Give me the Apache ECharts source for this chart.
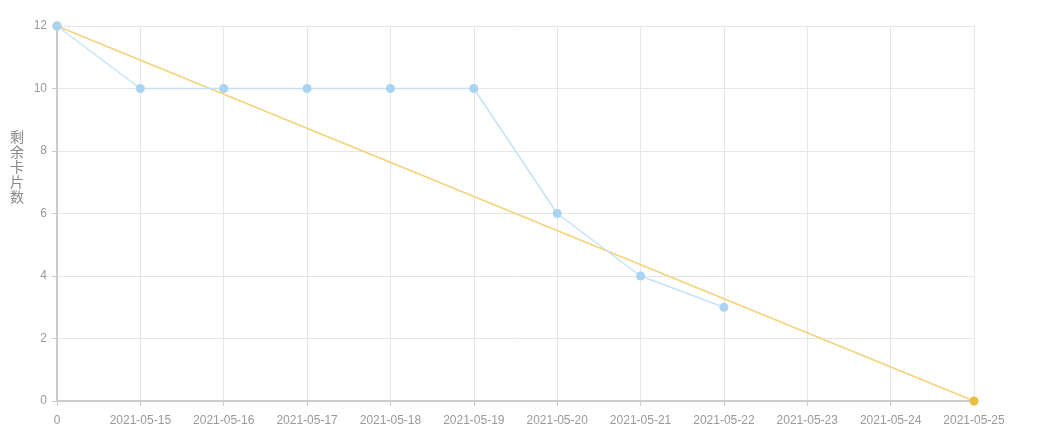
<!DOCTYPE html>
<html><head><meta charset="utf-8">
<script src="https://cdn.jsdelivr.net/npm/echarts@6/dist/echarts.min.js"></script>
<style>html,body{margin:0;padding:0;background:#fff}#c{width:1063px;height:443px}</style>
</head><body><div id="c"></div>
<script>
const categories = ['0','2021-05-15','2021-05-16','2021-05-17','2021-05-18','2021-05-19','2021-05-20','2021-05-21','2021-05-22','2021-05-23','2021-05-24','2021-05-25'];
const actualValues = [12,10,10,10,10,10,6,4,3,null,null,null];
const idealValues = [12,null,null,null,null,null,null,null,null,null,null,0];
const yTicks = {min:0,max:12,interval:2};
const yName = '剩余卡片数';

const chart = echarts.init(document.getElementById('c'));
chart.setOption({
  animation:false,
  grid:{left:57,right:89,top:26,bottom:42},
  graphic:[{type:'text',left:10,top:129,style:{text:yName.split('').join('\n'),fill:'#888',fontSize:14,lineHeight:15,fontFamily:'Noto Sans CJK SC, sans-serif'}}],
  xAxis:{type:'category',data:categories,boundaryGap:false,
    axisLine:{lineStyle:{color:'#ccc',width:2}},
    axisTick:{show:true,lineStyle:{color:'#ccc'}},
    axisLabel:{color:'#999',fontSize:12,margin:14,fontFamily:'Liberation Sans, Arial, sans-serif'},
    splitLine:{show:true,lineStyle:{color:'#e6e6e6'}}},
  yAxis:{type:'value',min:yTicks.min,max:yTicks.max,interval:yTicks.interval,
    axisLine:{show:true,lineStyle:{color:'#ccc',width:2}},
    axisTick:{show:true,lineStyle:{color:'#ccc'}},
    axisLabel:{color:'#999',fontSize:12,margin:10,fontFamily:'Liberation Sans, Arial, sans-serif'},
    splitLine:{show:true,lineStyle:{color:'#e6e6e6'}}},
  series:[
    {name:'理想',type:'line',data:idealValues,connectNulls:true,symbol:'circle',symbolSize:9,
      lineStyle:{color:'#f3d37a',width:1.5},itemStyle:{color:'#ecbe3c'},z:2},
    {name:'实际',type:'line',data:actualValues,symbol:'circle',symbolSize:9,
      lineStyle:{color:'#c6e2f7',width:1.5},itemStyle:{color:'#aad3f2'},z:3}
  ]
});
</script></body></html>
